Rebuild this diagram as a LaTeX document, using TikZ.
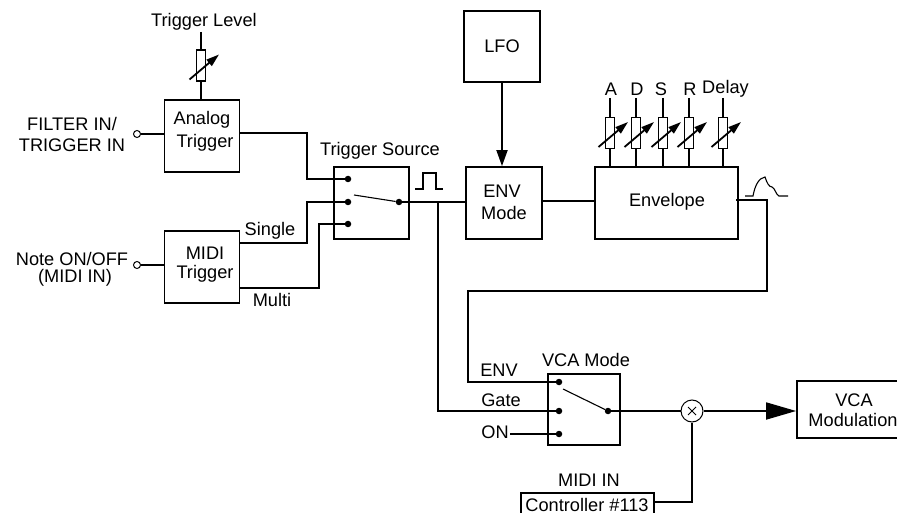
\documentclass[tikz,border=0pt]{standalone}
\usepackage{fontspec}
\setmainfont{Liberation Sans}
\usetikzlibrary{arrows.meta,calc}
\tikzset{
  x=1pt,y=-1pt,
  wire/.style={line width=1.8pt},
  boxn/.style={draw,line width=1.8pt,inner sep=0pt,align=center,font=\fontsize{18.2}{21}\selectfont},
  lbl/.style={inner sep=0pt,align=center,font=\fontsize{18.2}{21}\selectfont},
  dotn/.style={circle,fill=black,inner sep=0pt,minimum size=6.5pt},
  port/.style={circle,draw,line width=1pt,fill=white,inner sep=0pt,minimum size=7pt},
  bigarrow/.style={-{Triangle[length=16pt,width=11pt]}},
  hugearrow/.style={-{Triangle[length=30pt,width=17pt]}},
  potbody/.style={draw,line width=1.8pt,fill=white,minimum width=9pt,minimum height=31pt,inner sep=0pt},
  potarrow/.style={line width=1.8pt,-{Triangle[length=13pt,width=8pt]}},
  trace/.style={line width=1.1pt},
}
\newcommand{\potm}[4]{% name, x, top y of body, bottom y of body
  \node[potbody] (#1) at (#2,{(#3+#4)/2}) {};
  \coordinate (#1t) at (#2,#3-20);
  \draw[potarrow] (#2-11.5,{(#3+#4)/2+14}) -- (#2+18,{(#3+#4)/2-11});
}
\begin{document}
\begin{tikzpicture}
\useasboundingbox (0,0) rectangle (897,513);
% boxes
\node[boxn,minimum width=75pt,minimum height=72pt] (analog) at (202,136) {};
\node[lbl] at (202,120) {Analog};
\node[lbl] at (205,143) {Trigger};
\node[boxn,minimum width=75pt,minimum height=72pt] (midi) at (202,267) {};
\node[lbl] at (205,253) {MIDI};
\node[lbl] at (205,274) {Trigger};
\node[boxn,minimum width=75pt,minimum height=72pt] (tsrc) at (371.5,203) {};
\node[boxn,minimum width=76pt,minimum height=71pt] (lfo) at (502,46.5) {LFO};
\node[boxn,minimum width=76pt,minimum height=72pt] (envm) at (504,203) {};
\node[lbl] at (502,191) {ENV};
\node[lbl] at (504,213) {Mode};
\node[boxn,minimum width=143pt,minimum height=72pt] (envl) at (666.5,203) {};
\node[lbl] at (667,202) {Envelope};
\node[boxn,minimum width=72pt,minimum height=71pt] (vmode) at (584,409.5) {};
\node[boxn,minimum width=120pt,minimum height=57pt] (vmod) at (857,409.5) {};
\node[lbl] at (854,400) {VCA};
\node[lbl] at (853,420) {Modulation};
\node[boxn,minimum width=133pt,minimum height=30pt] (ctrl) at (587.5,508) {};
\node[lbl] at (587,504.5) {Controller \#113};
% labels
\node[lbl] (tl) at (204,22) {Trigger Level};
\node[lbl] (fi) at (72,124) {FILTER IN/};
\node[lbl] (ti) at (72,145) {TRIGGER IN};
\node[lbl] (no) at (72,259) {Note ON/OFF};
\node[lbl] (mi) at (75,278) {(MIDI IN)};
\node[lbl] (sg) at (270,231) {Single};
\node[lbl] (mu) at (272,300) {Multi};
\node[lbl] (tsl) at (380,151) {Trigger Source};
\node[lbl] (vml) at (586,360) {VCA Mode};
\node[lbl] (el) at (499,370) {ENV};
\node[lbl] (gl) at (501,400) {Gate};
\node[lbl] (onl) at (495,432) {ON};
\node[lbl] (mil) at (589,480) {MIDI IN};
\node[lbl] (la) at (611,89) {A};
\node[lbl] (ld) at (637,89) {D};
\node[lbl] (ls) at (661,89) {S};
\node[lbl] (lr) at (690,89) {R};
\node[lbl] (ldl) at (725.5,89) {Delay};
% switch contacts
\node[dotn] (t1) at (348,179) {};
\node[dotn] (t2) at (348,202) {};
\node[dotn] (t3) at (348,224) {};
\node[dotn] (tc) at (399,202) {};
\coordinate (tarm) at (354,195);
\draw[trace] (tarm) -- (tc);
\node[dotn] (v1) at (559,382) {};
\node[dotn] (v2) at (559,411) {};
\node[dotn] (v3) at (559,434) {};
\node[dotn] (vc) at (608,411) {};
\coordinate (varm) at (563,389);
\draw[trace] (varm) -- (vc);
% ports
\node[port] (p1) at (137,134) {};
\node[port] (p2) at (137,265) {};
\draw[wire] (p1) -- (analog.west |- p1);
\draw[wire] (p2) -- (midi.west |- p2);
% pots
\potm{pt}{201}{50}{81}
\draw[wire] (201,32) -- (pt.north);
\draw[wire] (pt.south) -- (analog.north -| pt);
\potm{pa}{610}{118}{148}
\potm{pd}{636}{118}{148}
\potm{ps}{663}{118}{148}
\potm{pr}{689}{118}{148}
\potm{pe}{723}{118}{148}
\foreach \n in {pa,pd,ps,pr,pe}{
  \draw[wire] (\n t) -- (\n.north);
  \draw[wire] (\n.south) -- (envl.north -| \n);
}
% trigger wiring
\coordinate (aout) at (239.5,133);
\coordinate (sout) at (239.5,243);
\coordinate (mout) at (239.5,288);
\draw[wire] (aout) -| (307,156) |- (t1);
\draw[wire] (sout) -| (307,222) |- (t2);
\draw[wire] (mout) -| (319,256) |- (t3);
\coordinate (eml) at (envm.west |- tc);
\draw[wire] (tc) -- (eml);
\coordinate (jn) at (438,202);
\draw[wire] (jn) |- (v2);
\coordinate (lfob) at (lfo.south);
\draw[wire,bigarrow] (lfob) -- (envm.north -| lfob);
\coordinate (emr) at (envm.east |- 0,201);
\draw[wire] (emr) -- (envl.west |- emr);
% envelope output
\coordinate (eo) at (736,200);
\coordinate (el1) at (767,291);
\coordinate (el2) at (468,291);
\draw[wire] (eo) -| (el1) -- (el2) |- (v1);
\coordinate (onw) at (510,434);
\draw[wire] (onw) -- (v3);
% multiplier
\node[draw,circle,line width=1pt,minimum size=22pt,inner sep=0pt] (mul) at (692,411) {};
\draw[line width=0.9pt] ($(mul)+(-4,-4)$) -- ($(mul)+(4,4)$);
\draw[line width=0.9pt] ($(mul)+(-4,4)$) -- ($(mul)+(4,-4)$);
\draw[wire] (vc) -- (mul);
\draw[wire,hugearrow] (mul) -- (vmod.west |- mul);
\coordinate (co) at (ctrl.east |- 0,502);
\draw[wire] (co) -| (mul);
% symbols
\draw[line width=1.4pt] (415,189) -- (423,189) -- (423,173) -- (436,173) -- (436,189) -- (443,189);
\draw[trace] (745,196) -- (753,196) .. controls (755,185) and (759,178) .. (765,177)
  .. controls (767,183) and (769,187) .. (772,187) .. controls (775,188) and (776,195) .. (779,196) -- (788,196);
\end{tikzpicture}
\end{document}
